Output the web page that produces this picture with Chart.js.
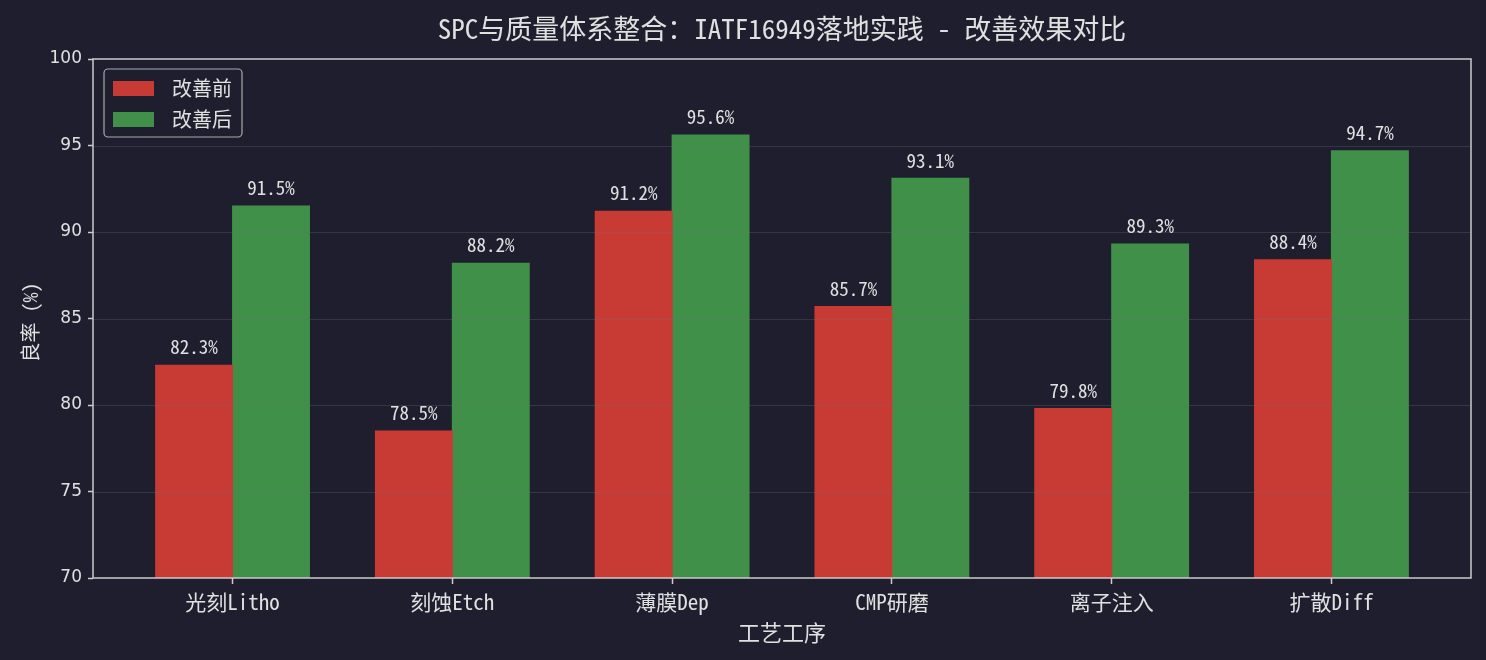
<!DOCTYPE html>
<html>
<head>
<meta charset="utf-8">
<script src="https://cdn.jsdelivr.net/npm/chart.js@4.4.1/dist/chart.umd.min.js"></script>
<style>
html,body{margin:0;padding:0;background:#1e1e2e;}
#wrap{width:1486px;height:660px;}
</style>
</head>
<body>
<div id="wrap"><canvas id="c" width="1486" height="660"></canvas></div>
<script>
const categories = ['光刻Litho','刻蚀Etch','薄膜Dep','CMP研磨','离子注入','扩散Diff'];
const beforeValues = [82.3, 78.5, 91.2, 85.7, 79.8, 88.4];
const afterValues = [91.5, 88.2, 95.6, 93.1, 89.3, 94.7];
const seriesNames = ['改善前','改善后'];
const yTicks = [70, 75, 80, 85, 90, 95, 100];
const titleText = 'SPC与质量体系整合：IATF16949落地实践 - 改善效果对比';
const xTitle = '工艺工序';
const yTitle = '良率 (%)';

const MONO = '"Noto Sans Mono CJK SC", "Noto Sans CJK SC", "DejaVu Sans Mono", monospace';
const SANS = '"DejaVu Sans", "Noto Sans CJK SC", sans-serif';
const TXT = '#e0e0e0';
const AX = '#cccccc';
const BG = '#1e1e2e';

const bgPlugin = {
  id: 'bg',
  beforeDraw(chart) {
    const ctx = chart.ctx;
    ctx.save();
    ctx.fillStyle = BG;
    ctx.fillRect(0, 0, chart.width, chart.height);
    ctx.restore();
  }
};

const decorPlugin = {
  id: 'decor',
  afterDatasetsDraw(chart) {
    const ctx = chart.ctx;
    const a = chart.chartArea;
    const ys = chart.scales.y;
    ctx.save();
    // grid lines on top of bars
    ctx.strokeStyle = 'rgba(110,110,120,0.3)';
    ctx.lineWidth = 1;
    yTicks.forEach(v => {
      if (v <= ys.min || v >= ys.max) return;
      const py = Math.round(ys.getPixelForValue(v)) + 0.5;
      ctx.beginPath(); ctx.moveTo(a.left, py); ctx.lineTo(a.right, py); ctx.stroke();
    });
    // value labels
    ctx.fillStyle = TXT;
    ctx.font = '19px ' + MONO;
    ctx.textAlign = 'center';
    ctx.textBaseline = 'middle';
    chart.data.datasets.forEach((ds, di) => {
      const meta = chart.getDatasetMeta(di);
      meta.data.forEach((bar, i) => {
        ctx.fillText(ds.data[i].y.toFixed(1) + '%', bar.x, bar.y - 18);
      });
    });
    // frame
    ctx.strokeStyle = AX;
    ctx.lineWidth = 1.5;
    ctx.strokeRect(a.left, a.top, a.right - a.left, a.bottom - a.top);
    // legend
    const lx = 104, ly = 69, lw = 138, lh = 68;
    ctx.fillStyle = 'rgba(30,30,46,0.8)';
    ctx.strokeStyle = '#aaaaaa';
    ctx.lineWidth = 1.2;
    ctx.beginPath();
    ctx.roundRect(lx, ly, lw, lh, 4);
    ctx.fill(); ctx.stroke();
    ctx.font = '20px ' + MONO;
    ctx.textAlign = 'left';
    ctx.textBaseline = 'middle';
    chart.data.datasets.forEach((ds, di) => {
      const cy = 88.5 + di * 31;
      ctx.fillStyle = ds.backgroundColor;
      ctx.fillRect(113, cy - 7.5, 41, 15);
      ctx.fillStyle = TXT;
      ctx.fillText(ds.label, 172, cy);
    });
    // titles
    ctx.fillStyle = TXT;
    ctx.textAlign = 'center';
    ctx.font = '27px ' + MONO;
    ctx.fillText(titleText, (a.left + a.right) / 2, 29);
    ctx.font = '22px ' + MONO;
    ctx.fillText(xTitle, (a.left + a.right) / 2, 633);
    ctx.font = '20px ' + MONO;
    ctx.translate(30, (a.top + a.bottom) / 2 + 4);
    ctx.rotate(-Math.PI / 2);
    ctx.fillText(yTitle, 0, 0);
    ctx.restore();
  }
};

const mk = (arr) => arr.map((v, i) => ({x: i, y: v}));

new Chart(document.getElementById('c'), {
  type: 'bar',
  data: {
    datasets: [
      {label: seriesNames[0], data: mk(beforeValues), backgroundColor: '#c83b35', borderWidth: 0, inflateAmount: 0.5},
      {label: seriesNames[1], data: mk(afterValues), backgroundColor: '#40904a', borderWidth: 0, inflateAmount: 0.5}
    ]
  },
  options: {
    responsive: false,
    animation: false,
    devicePixelRatio: 1,
    layout: {padding: {top: 59, right: 15, left: 0, bottom: 0}},
    datasets: {bar: {categoryPercentage: 0.7, barPercentage: 1.0, grouped: true}},
    plugins: {legend: {display: false}, title: {display: false}, tooltip: {enabled: false}},
    scales: {
      x: {
        type: 'linear',
        min: -0.635, max: 5.635,
        offset: false,
        afterFit(s) { s.height = 82; },
        afterBuildTicks(s) { s.ticks = categories.map((c, i) => ({value: i})); },
        grid: {display: true, offset: false, drawOnChartArea: false, drawTicks: true, tickLength: 6, tickColor: AX, tickWidth: 1.5},
        border: {display: false},
        ticks: {
          color: TXT, font: {family: MONO, size: 21}, padding: 5, autoSkip: false, maxRotation: 0,
          callback: (v) => categories[v] !== undefined ? categories[v] : ''
        }
      },
      y: {
        min: 70, max: 100,
        afterFit(s) { s.width = 93; },
        afterBuildTicks(s) { s.ticks = yTicks.map(v => ({value: v})); },
        grid: {display: true, drawOnChartArea: false, drawTicks: true, tickLength: 5, tickColor: AX, tickWidth: 1.5},
        border: {display: false},
        ticks: {color: TXT, font: {family: SANS, size: 17}, padding: 6}
      }
    }
  },
  plugins: [bgPlugin, decorPlugin]
});
</script>
</body>
</html>
